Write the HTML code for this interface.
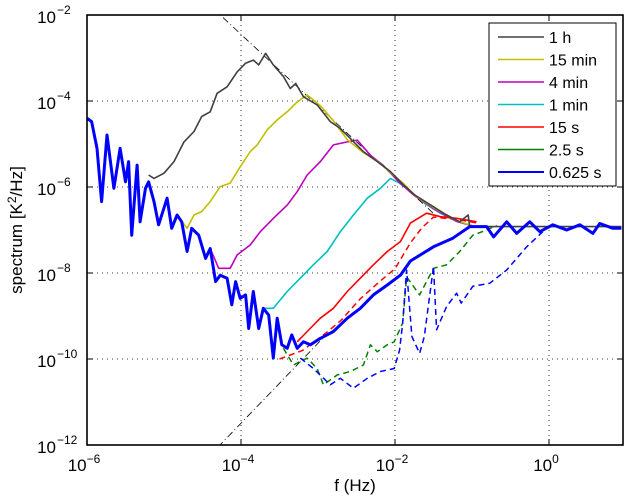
<!DOCTYPE html>
<html><head><meta charset="utf-8"><style>
html,body{margin:0;padding:0;background:#fff;}
svg{display:block;font-family:"Liberation Sans",sans-serif;}
</style></head><body>
<svg id="chart" width="625" height="497" viewBox="0 0 625 497"></svg>
<script>
// ---- data (log10 f, log10 S) ----
const xTicks = [-6, -4, -2, 0];
const yTicks = [-12, -10, -8, -6, -4, -2];
const seriesNames = ["1 h", "15 min", "4 min", "1 min", "15 s", "2.5 s", "0.625 s"];
const seriesColors = ["#404040", "#bfbf00", "#bf00bf", "#00bfbf", "#ff0000", "#008000", "#0000ff"];

const blueF = [-6,-5.94,-5.87,-5.81,-5.74,-5.65,-5.57,-5.5,-5.46,-5.42,-5.35,-5.31,-5.24,-5.2,-5.13,-5.07,-4.96,-4.9,-4.83,-4.77,-4.7,-4.64,-4.55,-4.46,-4.4,-4.33,-4.27,-4.18,-4.12,-4.07,-4.01,-3.94,-3.9,-3.84,-3.77,-3.71,-3.64,-3.58,-3.53,-3.47,-3.4,-3.34,-3.27,-3.19,-3.1,-2.97,-2.8,-2.62,-2.45,-2.28,-2.1,-1.93,-1.8,-1.5,-1.25,-1.03,-0.81,-0.72,-0.55,-0.42,-0.25,-0.12,0.05,0.23,0.4,0.57,0.66,0.83,0.94];
const blueS = [-4.4,-4.48,-5.1,-6.34,-4.79,-6.03,-5.1,-5.88,-5.41,-7.12,-5.49,-6.81,-6.03,-5.88,-6.34,-6.88,-6.26,-6.96,-6.65,-6.81,-7.5,-6.96,-7.12,-7.66,-7.43,-8.2,-8.05,-8.12,-8.74,-8.2,-8.59,-8.51,-9.29,-8.43,-9.29,-8.82,-8.98,-9.98,-9.05,-9.67,-9.75,-9.44,-9.75,-9.6,-9.67,-9.52,-9.36,-9.05,-8.82,-8.51,-8.28,-8.05,-7.72,-7.39,-7.19,-6.92,-6.92,-7.16,-6.81,-7.08,-6.81,-7.04,-6.88,-7.0,-6.88,-7.08,-6.85,-6.96,-6.96];

const grayF = [-5.2,-5.13,-5.0,-4.87,-4.74,-4.61,-4.51,-4.4,-4.31,-4.18,-4.05,-3.94,-3.84,-3.77,-3.68,-3.58,-3.45,-3.36,-3.29,-3.19,-3.01,-2.84,-2.71,-2.58,-2.41,-2.23,-2.06,-1.89,-1.74,-1.5,-1.33,-1.16,-1.05,-1.03,-0.5,0,0.5,0.94];
const grayS = [-5.72,-5.8,-5.68,-5.41,-4.95,-4.71,-4.36,-4.25,-3.82,-3.67,-3.32,-3.12,-3.05,-3.16,-2.89,-3.16,-3.43,-3.71,-3.59,-3.9,-4.09,-4.48,-4.64,-4.87,-5.18,-5.41,-5.64,-5.95,-6.19,-6.46,-6.65,-6.81,-6.65,-6.92,-6.92,-6.92,-6.92,-6.92];

const yellowF = [-4.83,-4.7,-4.61,-4.51,-4.4,-4.27,-4.14,-4.01,-3.88,-3.79,-3.66,-3.53,-3.4,-3.27,-3.14,-2.97,-2.8,-2.62,-2.41,-2.23,-2.06,-1.89,-1.74,-1.5,-1.2,-1.0];
const yellowS = [-6.65,-6.96,-6.65,-6.57,-6.34,-5.99,-5.91,-5.53,-5.18,-5.02,-4.67,-4.44,-4.25,-4.02,-3.86,-4.11,-4.46,-4.9,-5.2,-5.4,-5.66,-5.92,-6.2,-6.48,-6.78,-6.9];

const magentaF = [-4.4,-4.29,-4.14,-4.05,-3.88,-3.75,-3.58,-3.4,-3.27,-3.14,-2.97,-2.8,-2.62,-2.49,-2.32,-2.15,-1.95,-1.75,-1.5,-1.2,-1.0];
const magentaS = [-7.43,-7.89,-7.89,-7.58,-7.35,-7.04,-6.73,-6.42,-6.11,-5.72,-5.41,-5.02,-4.95,-4.91,-5.26,-5.5,-5.88,-6.2,-6.5,-6.8,-6.9];

const cyanF = [-3.71,-3.58,-3.4,-3.23,-3.06,-2.88,-2.71,-2.54,-2.36,-2.19,-2.06,-1.95,-1.8,-1.6,-1.4,-1.2,-1.0];
const cyanS = [-8.82,-8.82,-8.43,-8.12,-7.81,-7.5,-7.04,-6.65,-6.26,-6.03,-5.8,-5.9,-6.1,-6.4,-6.62,-6.8,-6.9];

const redF = [-3.27,-3.14,-2.97,-2.8,-2.62,-2.45,-2.28,-2.1,-1.93,-1.8,-1.59,-1.41,-1.19,-0.94];
const redS = [-9.6,-9.36,-9.05,-8.82,-8.43,-8.12,-7.81,-7.5,-7.27,-6.84,-6.61,-6.69,-6.73,-6.81];
const redDashF = [-3.5,-3.2,-2.9,-2.7,-2.45,-2.2,-2.0,-1.8,-1.65,-1.5,-1.2,-0.9];
const redDashS = [-10.0,-9.8,-9.4,-9.1,-8.6,-8.2,-7.9,-7.3,-6.95,-6.7,-6.75,-6.85];

const greenDashF = [-3.45,-3.32,-3.14,-3.01,-2.93,-2.75,-2.58,-2.41,-2.32,-2.23,-2.1,-2.01,-1.9,-1.85,-1.68,-1.5,-1.33,-1.16,-0.99,-0.81,-0.68];
const greenDashS = [-9.75,-10.14,-9.98,-10.22,-10.6,-10.37,-10.29,-10.14,-9.67,-9.83,-9.67,-9.6,-9.16,-8.09,-8.51,-7.89,-7.81,-7.5,-7.12,-7.0,-6.89];

const blueDashF = [-3.23,-3.06,-2.84,-2.71,-2.54,-2.36,-2.19,-2.01,-1.94,-1.9,-1.85,-1.78,-1.68,-1.62,-1.5,-1.46,-1.33,-1.2,-1.14,-0.99,-0.77,-0.55,-0.29,-0.08];
const blueDashS = [-9.98,-10.22,-10.6,-10.45,-10.68,-10.45,-10.29,-10.22,-9.79,-9.16,-7.93,-9.48,-9.87,-9.48,-7.85,-9.32,-8.78,-8.47,-8.7,-8.31,-8.24,-7.93,-7.39,-7.04];

const refDownF = [-4.5, -1.5];
const refDownS = [-2 + (5/3)*0.23, -2 - (5/3)*2.77];
const refUpF = [-4.3, -2.9];
const refUpS = [-12.05, -9.45];

// ---- layout ----
const L = 87, R = 623, T = 15, B = 445;
const X = lf => L + (lf + 6) * 77;
const Y = ls => T + (-2 - ls) * 43;
const NS = "http://www.w3.org/2000/svg";
const svg = document.getElementById('chart');
function mk(tag, attrs, parent) {
  const e = document.createElementNS(NS, tag);
  for (const k in attrs) e.setAttribute(k, attrs[k]);
  (parent || svg).appendChild(e);
  return e;
}
const defs = mk('defs', {});
const cp = mk('clipPath', {id: 'plotclip'}, defs);
mk('rect', {x: L, y: T, width: R - L, height: B - T}, cp);

// grid
const grid = mk('g', {stroke: '#000', 'stroke-width': 0.8, 'stroke-dasharray': '1,4'});


xTicks.slice(1).forEach(t => { const l = mk('line', {x1: X(t), x2: X(t), y1: T, y2: B}, grid);   });
yTicks.slice(1, -1).forEach(t => { const l = mk('line', {x1: L, x2: R, y1: Y(t), y2: Y(t)}, grid);   });

// series
const plot = mk('g', {'clip-path': 'url(#plotclip)', fill: 'none', 'stroke-linejoin': 'round'});


function line(fs, ss, color, w, dash, name) {
  const d = fs.map((f, i) => (i ? 'L' : 'M') + X(f).toFixed(1) + ',' + Y(ss[i]).toFixed(1)).join('');
  const p = mk('path', {d: d, stroke: color, 'stroke-width': w}, plot);
  if (dash) p.setAttribute('stroke-dasharray', dash);
  
  
}
line(refDownF, refDownS, '#000', 0.8, '7,3,1,3', 'reference-line-minus-5-3');
line(refUpF, refUpS, '#000', 0.8, '7,3,1,3', 'reference-line-rising');
line(greenDashF, greenDashS, seriesColors[5], 1.5, '6,4', 'series-2.5s-dashed');
line(blueDashF, blueDashS, seriesColors[6], 1.5, '6,4', 'series-0.625s-dashed');
line(redDashF, redDashS, seriesColors[4], 1.5, '6,4', 'series-15s-dashed');
line(cyanF, cyanS, seriesColors[3], 1.6, null, 'series-1min');
line(magentaF, magentaS, seriesColors[2], 1.6, null, 'series-4min');
line(yellowF, yellowS, seriesColors[1], 1.6, null, 'series-15min');
line(redF, redS, seriesColors[4], 1.6, null, 'series-15s');
line(grayF, grayS, seriesColors[0], 1.6, null, 'series-1h');
line(blueF, blueS, seriesColors[6], 3, null, 'series-0.625s');

// frame
const frame = mk('rect', {x: L, y: T, width: R - L, height: B - T, fill: 'none', stroke: '#000', 'stroke-width': 1.6});



// ticks & labels
xTicks.forEach(t => {
  if (t > -6) {
    mk('line', {x1: X(t), x2: X(t), y1: B, y2: B - 6, stroke: '#000', 'stroke-width': 1});
    mk('line', {x1: X(t), x2: X(t), y1: T, y2: T + 6, stroke: '#000', 'stroke-width': 1});
  }
  const tx = mk('text', {x: X(t) - 3, y: 471, 'font-size': 17, 'text-anchor': 'middle'});
  
  
  tx.appendChild(document.createTextNode('10'));
  const sp = mk('tspan', {dy: -8, 'font-size': 12}, tx);
  sp.textContent = t === 0 ? '0' : '\u2212' + (-t);
});
yTicks.forEach(t => {
  if (t > -12 && t < -2) {
    mk('line', {x1: L, x2: L + 6, y1: Y(t), y2: Y(t), stroke: '#000', 'stroke-width': 1});
    mk('line', {x1: R, x2: R - 6, y1: Y(t), y2: Y(t), stroke: '#000', 'stroke-width': 1});
  }
  const tx = mk('text', {x: 56, y: Y(t) + 8, 'font-size': 17, 'text-anchor': 'end'});
  
  
  tx.textContent = '10';
  const sp = mk('text', {x: 57, y: Y(t) - 1, 'font-size': 12});
  
  
  sp.textContent = '\u2212' + (-t);
});

const xl = mk('text', {x: 355, y: 491, 'font-size': 17, 'text-anchor': 'middle'});


xl.textContent = 'f (Hz)';
const yl = mk('text', {x: 0, y: 0, 'font-size': 17, 'text-anchor': 'middle', transform: 'translate(22,230) rotate(-90)'});


yl.appendChild(document.createTextNode('spectrum [K'));
const sup = mk('tspan', {dy: -6, 'font-size': 12}, yl); sup.textContent = '2';
const rest = mk('tspan', {dy: 6}, yl); rest.textContent = '/Hz]';

// legend
const lg = mk('g', {});


mk('rect', {x: 489, y: 23, width: 127, height: 163, fill: '#fff', stroke: '#000', 'stroke-width': 1}, lg);
seriesNames.forEach((n, i) => {
  const y = 37 + i * 22.5;
  const g = mk('g', {}, lg);
  
  
  mk('line', {x1: 498, x2: 544, y1: y, y2: y, stroke: seriesColors[i], 'stroke-width': i === 6 ? 2 : 1.5}, g);
  const t = mk('text', {x: 549, y: y + 6, 'font-size': 16}, g);
  t.textContent = n;
});
</script>
</body></html>
